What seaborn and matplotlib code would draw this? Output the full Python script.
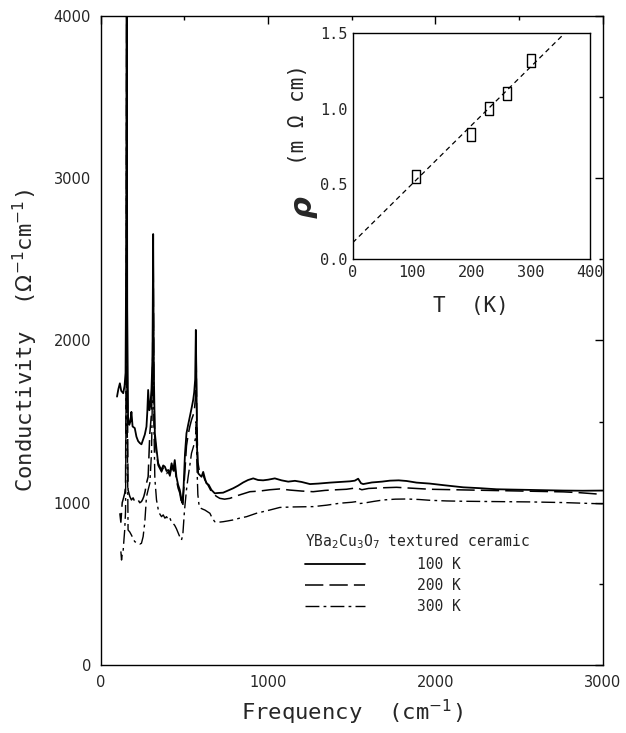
'''
YBa2Cu3O7 textured ceramic - optical conductivity with resistivity inset
'''

import matplotlib
matplotlib.use('Agg')
import matplotlib.pyplot as plt
import seaborn as sns
import pandas as pd
from matplotlib.lines import Line2D

# 100 K (solid)
f100 = [97, 105, 114, 122, 134, 142, 148, 152, 155, 158, 163, 170, 177, 183, 190, 203, 213, 223, 233, 243,
        253, 263, 273, 278, 283, 290, 296, 303, 309, 313, 317, 323, 333, 343, 353, 363, 373, 383, 393, 403,
        413, 423, 433, 442, 452, 462, 472, 482, 488, 495, 503, 512, 522, 532, 542, 552, 558, 564, 568, 572,
        576, 582, 592, 602, 612, 622, 631, 645, 661, 681, 700, 731, 760, 791, 820, 851, 880, 911, 940, 970,
        1000, 1040, 1080, 1120, 1160, 1200, 1250, 1300, 1370, 1430, 1490, 1518, 1538, 1555, 1568, 1620,
        1680, 1727, 1780, 1827, 1887, 1966, 2050, 2166, 2260, 2365, 2460, 2565, 2660, 2764, 2880, 3000]
s100 = [1654, 1700, 1736, 1690, 1675, 1720, 1800, 2600, 4600, 2200, 1530, 1480, 1500, 1560, 1470, 1460, 1407, 1380, 1368, 1360,
        1390, 1420, 1469, 1560, 1695, 1570, 1600, 1700, 1900, 2656, 1800, 1430, 1330, 1243, 1220, 1202, 1230, 1222, 1195, 1202,
        1180, 1243, 1200, 1263, 1160, 1110, 1079, 1020, 997, 1100, 1300, 1428, 1480, 1530, 1580, 1633, 1680, 1760, 2065, 1700,
        1300, 1181, 1170, 1160, 1190, 1150, 1120, 1110, 1079, 1058, 1060, 1062, 1075, 1089, 1105, 1125, 1140, 1150, 1140, 1138,
        1142, 1150, 1138, 1130, 1135, 1128, 1115, 1118, 1124, 1128, 1132, 1136, 1148, 1120, 1115, 1125,
        1130, 1136, 1138, 1134, 1124, 1118, 1108, 1095, 1090, 1083, 1081, 1079, 1077, 1075, 1074, 1075]

# 200 K (dashed)
f200 = [114, 120, 128, 136, 143, 148, 152, 155, 158, 163, 173, 183, 193, 203, 213, 223, 233, 243, 250, 257,
        265, 273, 283, 293, 303, 309, 313, 317, 323, 333, 343, 353, 363, 373, 383, 393, 403, 413, 423, 433,
        442, 452, 462, 472, 482, 490, 500, 512, 522, 532, 542, 552, 560, 566, 570, 574, 580, 590, 602, 612,
        622, 640, 661, 690, 711, 740, 771, 820, 891, 950, 1010, 1070, 1130, 1200, 1269, 1340, 1410, 1468,
        1530, 1560, 1600, 1680, 1767, 1850, 1967, 2066, 2166, 2265, 2365, 2465, 2565, 2665, 2764, 2860, 2963]
s200 = [935, 880, 1000, 1030, 1058, 1100, 2000, 4300, 1800, 1079, 1040, 1017, 1030, 1007, 1020, 1017, 1000, 1007, 1020, 1038,
        1070, 1120, 1161, 1428, 1550, 1750, 2550, 1700, 1400, 1300, 1230, 1210, 1190, 1215, 1205, 1180, 1190, 1165, 1220, 1180,
        1230, 1140, 1090, 1060, 1000, 980, 1150, 1350, 1420, 1470, 1510, 1540, 1580, 1650, 1900, 1500, 1250, 1190, 1181, 1170,
        1140, 1110, 1068, 1040, 1027, 1022, 1027, 1045, 1068, 1072, 1080, 1085, 1078, 1072, 1068, 1076, 1080, 1083,
        1092, 1080, 1088, 1092, 1095, 1090, 1083, 1081, 1079, 1077, 1075, 1073, 1071, 1069, 1067, 1062, 1054]

# 300 K (dash-dot)
f300 = [120, 124, 129, 134, 139, 143, 148, 152, 155, 158, 163, 173, 183, 193, 203, 213, 223, 233, 243, 253,
        263, 273, 283, 293, 303, 309, 313, 317, 323, 333, 343, 353, 363, 373, 383, 393, 403, 413, 423, 432,
        442, 452, 462, 472, 482, 490, 500, 512, 522, 532, 542, 552, 560, 566, 570, 574, 580, 588, 600, 610,
        622, 637, 652, 666, 681, 705, 731, 760, 791, 830, 871, 930, 1010, 1070, 1150, 1269, 1350, 1429, 1500,
        1528, 1545, 1568, 1630, 1688, 1760, 1827, 1900, 1967, 2066, 2166, 2265, 2365, 2465, 2565, 2665, 2764,
        2880, 3000]
s300 = [700, 647, 690, 709, 780, 832, 950, 1900, 4200, 1500, 832, 820, 801, 780, 760, 755, 750, 745, 750, 791,
        880, 1037, 1080, 1120, 1305, 1700, 2450, 1500, 1150, 1017, 960, 930, 914, 925, 905, 914, 895, 905, 880, 873,
        860, 840, 815, 790, 770, 800, 950, 1079, 1160, 1230, 1305, 1340, 1370, 1400, 1500, 1250, 1050, 976, 965, 960,
        955, 945, 935, 905, 883, 880, 883, 888, 894, 905, 914, 935, 955, 971, 974, 976, 985, 997, 1003,
        1007, 995, 997, 1008, 1017, 1022, 1023, 1020, 1015, 1011, 1009, 1008, 1007, 1006, 1005, 1003, 1001,
        997, 993]

# inset: resistivity vs temperature
T_pts = [107, 200, 230, 260, 300]
rho_pts = [0.55, 0.83, 1.0, 1.1, 1.32]
T_fit = [0, 400]
rho_fit = [0.11, 1.666]

temps = ['100 K', '200 K', '300 K']

sns.set_style('white')
plt.rcParams['font.family'] = ['DejaVu Sans']
plt.rcParams['mathtext.fontset'] = 'dejavusans'

mono = 'DejaVu Sans Mono'

fig = plt.figure(figsize=(6.26, 7.33), dpi=100)
ax = fig.add_axes([0.161, 0.0928, 0.802, 0.8854])

styles = [dict(linestyle='-', linewidth=1.3),
          dict(linestyle=(0, (12, 4)), linewidth=1.1),
          dict(linestyle=(0, (10, 3, 2, 3)), linewidth=1.0)]

for fx, sy, st in zip([f100, f200, f300], [s100, s200, s300], styles):
    df = pd.DataFrame({'f': fx, 's': sy})
    sns.lineplot(data=df, x='f', y='s', ax=ax, color='black', sort=False,
                 estimator=None, **st)

ax.set_xlim(0, 3000)
ax.set_ylim(0, 4000)
ax.set_xticks([0, 1000, 2000, 3000])
ax.set_xticks([500, 1500, 2500], minor=True)
ax.set_yticks([0, 1000, 2000, 3000, 4000])
ax.set_yticks([500, 1500, 2500, 3500], minor=True)
ax.tick_params(which='both', direction='in', top=True, right=True, color='black')
ax.tick_params(which='major', length=6, width=1, labelsize=10.5, pad=7)
ax.tick_params(which='minor', length=3, width=1)
for sp in ax.spines.values():
    sp.set_color('black')
    sp.set_linewidth(1.0)

ax.set_xlabel('Frequency  (cm$^{-1}$)', family=mono, fontsize=16, labelpad=6)
ax.set_ylabel('Conductivity  ($\\Omega^{-1}$cm$^{-1}$)', family=mono, fontsize=16, labelpad=10)

handles = [Line2D([], [], color='black', **st) for st in styles]
leg = ax.legend(handles, temps, title='YBa$_2$Cu$_3$O$_7$ textured ceramic',
                loc='upper left', bbox_to_anchor=(305 / 626, 0.274),
                bbox_transform=fig.transFigure, frameon=False,
                handlelength=4.1, handletextpad=3.6, labelspacing=0.42,
                borderpad=0, borderaxespad=0, alignment='left',
                prop={'family': mono, 'size': 10.5},
                title_fontproperties={'family': mono, 'size': 10.5})

# inset
axi = fig.add_axes([0.5634, 0.6463, 0.379, 0.3083])
sns.lineplot(x=T_fit, y=rho_fit, ax=axi, color='black', linestyle=(0, (4, 3)),
             linewidth=0.9)
rect = [(-0.6, -1), (0.6, -1), (0.6, 1), (-0.6, 1), (-0.6, -1)]
sns.scatterplot(x=T_pts, y=rho_pts, ax=axi, marker=rect, s=90,
                facecolor='none', edgecolor='black', linewidth=1.0)
axi.set_xlim(0, 400)
axi.set_ylim(0, 1.5)
axi.set_xticks([0, 100, 200, 300, 400])
axi.set_yticks([0.0, 0.5, 1.0, 1.5])
axi.set_yticklabels(['0.0', '0.5', '1.0', '1.5'])
axi.tick_params(length=0, labelsize=11, pad=4)
for lab in axi.get_xticklabels() + axi.get_yticklabels():
    lab.set_family(mono)
for sp in axi.spines.values():
    sp.set_color('black')
    sp.set_linewidth(1.0)
axi.set_xlabel('T  (K)', family=mono, fontsize=15, labelpad=12)
axi.set_ylabel('')
axi.text(-0.21, 0.23, 'ρ', transform=axi.transAxes, rotation=90, fontsize=22,
         fontweight='bold', style='italic', ha='center', va='center')
axi.text(-0.23, 0.64, '(m Ω cm)', transform=axi.transAxes, rotation=90,
         family=mono, fontsize=15, ha='center', va='center')

fig.savefig('out.png', dpi=100)
